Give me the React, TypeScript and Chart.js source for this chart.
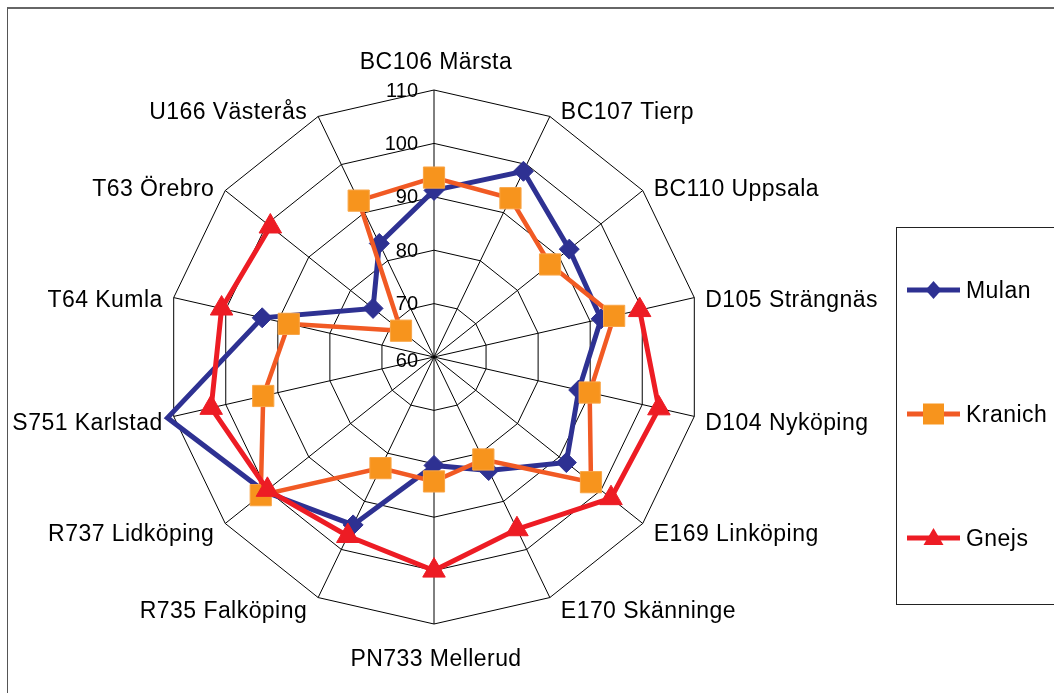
import React, { useEffect, useRef } from 'react';
import { Chart, registerables } from 'chart.js';

Chart.register(...registerables);

const categories = [
  'BC106 Märsta',
  'BC107 Tierp',
  'BC110 Uppsala',
  'D105 Strängnäs',
  'D104 Nyköping',
  'E169 Linköping',
  'E170 Skänninge',
  'PN733 Mellerud',
  'R735 Falköping',
  'R737 Lidköping',
  'S751 Karlstad',
  'T64 Kumla',
  'T63 Örebro',
  'U166 Västerås',
];

const mulan = [91.2, 98.6, 92.4, 92.1, 87.8, 91.7, 83.6, 80.3, 94.9, 100.5, 111.2, 93.0, 74.6, 83.6];
const kranich = [93.6, 93.0, 87.8, 94.6, 89.9, 97.6, 81.3, 83.3, 83.1, 101.5, 92.8, 87.9, 67.9, 92.5];
const gnejs = [null, null, null, 99.5, 103.2, 102.4, 95.8, 100.0, 97.2, 99.9, 102.8, 100.8, 99.2, null];

const tickValues = [60, 70, 80, 90, 100, 110];
const seriesNames = ['Mulan', 'Kranich', 'Gnejs'];

const SCALE_MIN = 60;
const SCALE_MAX = 110;
const SCALE_STEP = 10;

const W = 1054;
const H = 693;
const FONT = '"Liberation Sans", Arial, Helvetica, sans-serif';

const lineColors = ['#2E3192', '#F15A24', '#ED1C24'];
const markerColors = ['#2E3192', '#F7941D', '#ED1C24'];
const markerStyles = ['rectRot', 'rect', 'triangle'];

function drawMarker(ctx: CanvasRenderingContext2D, style: string, x: number, y: number, color: string) {
  ctx.fillStyle = color;
  ctx.beginPath();
  if (style === 'rectRot') {
    ctx.moveTo(x, y - 9);
    ctx.lineTo(x + 8, y);
    ctx.lineTo(x, y + 9);
    ctx.lineTo(x - 8, y);
    ctx.closePath();
  } else if (style === 'rect') {
    ctx.rect(x - 10.5, y - 10.5, 21, 21);
  } else {
    ctx.moveTo(x, y - 10);
    ctx.lineTo(x + 10, y + 7);
    ctx.lineTo(x - 10, y + 7);
    ctx.closePath();
  }
  ctx.fill();
}

const textPlugin = {
  id: 'radarTexts',
  afterDraw(chart: any) {
    const ctx: any = chart.ctx;
    const scale = chart.scales.r;
    ctx.save();
    ctx.fillStyle = '#000';
    ctx.textBaseline = 'middle';

    // tick labels
    ctx.font = `20px ${FONT}`;
    ctx.textAlign = 'right';
    tickValues.forEach((v) => {
      const d = scale.getDistanceFromCenterForValue(v);
      ctx.fillText(String(v), scale.xCenter - 16, scale.yCenter - d + (v === SCALE_MIN ? 4 : 1));
    });

    // point labels
    ctx.font = `23px ${FONT}`;
    if ('letterSpacing' in ctx) ctx.letterSpacing = '0.45px';
    const n = categories.length;
    categories.forEach((label, i) => {
      const p = scale.getPointPosition(i, scale.drawingArea);
      const a = (i / n) * 2 * Math.PI;
      const s = Math.sin(a);
      const c = Math.cos(a);
      let x: number;
      let y: number;
      if (Math.abs(s) < 0.05) {
        ctx.textAlign = 'center';
        x = p.x + 2;
        y = c > 0 ? p.y - 27 : p.y + 36;
      } else {
        ctx.textAlign = s > 0 ? 'left' : 'right';
        x = p.x + (s > 0 ? 11 : -11);
        y = p.y + 5 - c * 10;
      }
      ctx.fillText(label, x, y);
    });

    // legend
    const boxL = 896.5;
    const boxT = 227.5;
    const boxH = 377;
    ctx.strokeStyle = '#222';
    ctx.lineWidth = 1;
    ctx.strokeRect(boxL, boxT, 300, boxH);
    chart.data.datasets.forEach((ds: any, i: number) => {
      const ly = 290 + i * 124;
      ctx.strokeStyle = lineColors[i];
      ctx.lineWidth = 5;
      ctx.beginPath();
      ctx.moveTo(907, ly);
      ctx.lineTo(960, ly);
      ctx.stroke();
      drawMarker(ctx, markerStyles[i], 933.5, ly, markerColors[i]);
      ctx.fillStyle = '#000';
      ctx.font = `23px ${FONT}`;
      ctx.textAlign = 'left';
      ctx.fillText(ds.label, 966, ly + 2);
    });
    ctx.restore();
  },
};

export default function App() {
  const ref = useRef<HTMLCanvasElement>(null);

  useEffect(() => {
    if (!ref.current) return;
    const hideOutside = (ctx: any, r: number) => (ctx.raw != null && ctx.raw > SCALE_MAX ? 0 : r);
    const chart = new Chart(ref.current, {
      type: 'radar',
      data: {
        labels: categories,
        datasets: [
          {
            label: seriesNames[0],
            data: mulan,
            borderColor: lineColors[0],
            backgroundColor: 'transparent',
            fill: false,
            borderWidth: 5,
            pointStyle: 'rectRot',
            pointRadius: (ctx: any) => hideOutside(ctx, 10),
            pointBackgroundColor: markerColors[0],
            pointBorderColor: markerColors[0],
            pointBorderWidth: 1,
            order: 3,
            clip: false,
          },
          {
            label: seriesNames[1],
            data: kranich,
            borderColor: lineColors[1],
            backgroundColor: 'transparent',
            fill: false,
            borderWidth: 4.5,
            pointStyle: 'rect',
            pointRadius: (ctx: any) => hideOutside(ctx, 15),
            pointBackgroundColor: markerColors[1],
            pointBorderColor: '#F9A546',
            pointBorderWidth: 1,
            order: 2,
            clip: false,
          },
          {
            label: seriesNames[2],
            data: gnejs,
            borderColor: lineColors[2],
            backgroundColor: 'transparent',
            fill: false,
            borderWidth: 5,
            pointStyle: 'triangle',
            pointRadius: (ctx: any) => hideOutside(ctx, 13),
            pointBackgroundColor: markerColors[2],
            pointBorderColor: markerColors[2],
            pointBorderWidth: 1,
            spanGaps: false,
            order: 1,
            clip: false,
          },
        ] as any,
      },
      options: {
        responsive: false,
        maintainAspectRatio: false,
        animation: false,
        devicePixelRatio: 1,
        layout: { padding: { left: 167, right: W - 167 - 534, top: 90, bottom: H - 90 - 534 } },
        elements: { line: { tension: 0, borderJoinStyle: 'miter' } },
        plugins: {
          legend: { display: false },
          tooltip: { enabled: false },
        },
        scales: {
          r: {
            min: SCALE_MIN,
            max: SCALE_MAX,
            beginAtZero: false,
            ticks: { stepSize: SCALE_STEP, display: false },
            grid: { color: '#000', lineWidth: 1 },
            angleLines: { color: '#000', lineWidth: 1 },
            pointLabels: { display: false },
          },
        },
      } as any,
      plugins: [textPlugin],
    });
    return () => chart.destroy();
  }, []);

  return (
    <div style={{ position: 'fixed', left: 0, top: 0, width: W, height: H, overflow: 'hidden', background: '#fff' }}>
      <div
        style={{
          position: 'absolute',
          left: 7,
          top: 7,
          width: 1200,
          height: 800,
          borderTop: '2px solid #666',
          borderLeft: '1px solid #555',
        }}
      />
      <canvas ref={ref} width={W} height={H} style={{ position: 'absolute', left: 0, top: 0, width: W, height: H }} />
    </div>
  );
}
